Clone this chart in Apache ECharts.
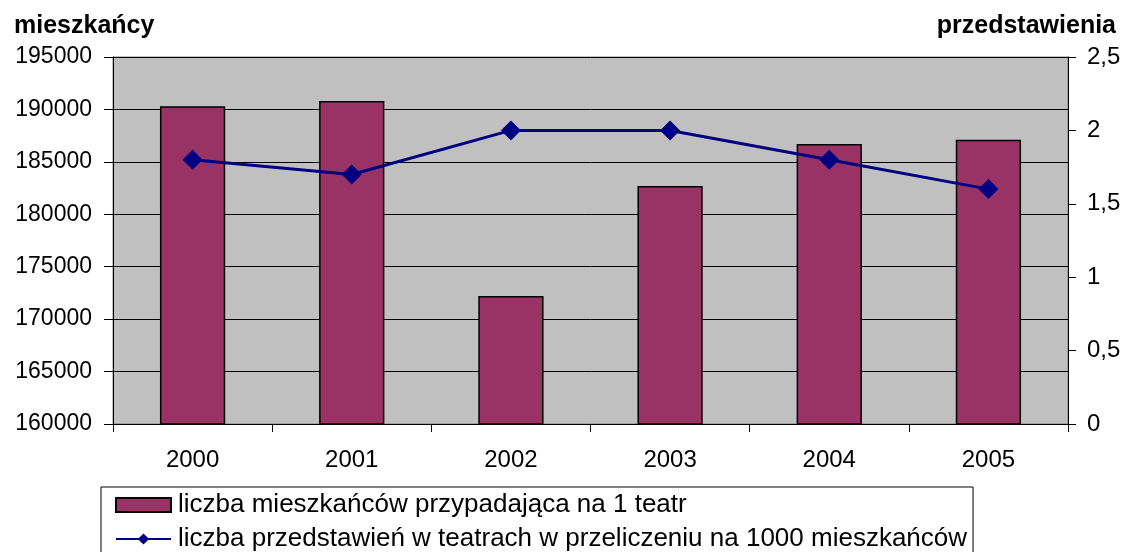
<!DOCTYPE html>
<html>
<head>
<meta charset="utf-8">
<script src="https://cdn.jsdelivr.net/npm/echarts@6/dist/echarts.min.js"></script>
<style>
  html, body { margin: 0; padding: 0; background: #fff; }
  #chart { width: 1127px; height: 552px; }
</style>
</head>
<body>
<div id="chart"></div>
<script>
"use strict";

// lata
const years = ['2000', '2001', '2002', '2003', '2004', '2005'];

// liczba mieszkańców na 1 teatr (oś lewa)
const residentsPerTheatre = [190300, 190800, 172200, 182700, 186700, 187100];

// przedstawienia na 1000 mieszkańców (oś prawa)
const showsPer1000 = [1.8, 1.7, 2.0, 2.0, 1.8, 1.6];

const barName = 'liczba mieszkańców przypadająca na 1 teatr';
const lineName = 'liczba przedstawień w teatrach w przeliczeniu na 1000 mieszkańców';

const font = "'Liberation Sans', Arial, sans-serif";

var myChart = echarts.init(document.getElementById('chart'));

var option = {
    animation: false,
    textStyle: { fontFamily: font },
    title: [
        {
            text: 'mieszkańcy',
            left: 9, top: 9,
            textStyle: { fontSize: 25, fontWeight: 'bold', color: '#000', fontFamily: font }
        },
        {
            text: 'przedstawienia',
            right: 6, top: 9,
            textStyle: { fontSize: 25, fontWeight: 'bold', color: '#000', fontFamily: font }
        }
    ],
    legend: {
        orient: 'vertical',
        left: 101,
        top: 487,
        height: 200,
        padding: [5, 6, 12, 14],
        itemGap: 8,
        itemWidth: 55,
        itemHeight: 14,
        borderColor: '#000',
        borderWidth: 1,
        backgroundColor: '#fff',
        textStyle: { fontSize: 26, color: '#000', fontFamily: font, padding: [0, 0, 0, 2] },
        data: [
            { name: barName, icon: 'rect' },
            { name: lineName }
        ]
    },
    grid: {
        left: 113, right: 59, top: 57, bottom: 128,
        show: true,
        backgroundColor: '#C0C0C0',
        borderColor: '#808080',
        borderWidth: 1
    },
    xAxis: {
        type: 'category',
        data: years,
        axisLine: { lineStyle: { color: '#000', width: 1 } },
        axisTick: { show: true, length: 8, lineStyle: { color: '#000' } },
        axisLabel: { fontSize: 24, color: '#000', margin: 24 }
    },
    yAxis: [
        {
            type: 'value',
            min: 160000, max: 195000, interval: 5000,
            axisLine: { show: true, lineStyle: { color: '#000' } },
            axisTick: { show: true, length: 9, lineStyle: { color: '#000' } },
            axisLabel: { fontSize: 23, color: '#000', margin: 21, formatter: v => String(v) },
            splitLine: { lineStyle: { color: '#000', width: 1 } }
        },
        {
            type: 'value',
            min: 0, max: 2.5, interval: 0.5,
            position: 'right',
            axisLine: { show: true, lineStyle: { color: '#000' } },
            axisTick: { show: true, length: 8, lineStyle: { color: '#000' } },
            axisLabel: {
                fontSize: 24, color: '#000', margin: 19,
                formatter: v => String(v).replace('.', ',')
            },
            splitLine: { show: false }
        }
    ],
    series: [
        {
            name: barName,
            type: 'bar',
            data: residentsPerTheatre,
            barWidth: '41%',
            itemStyle: { color: '#993366', borderColor: '#000', borderWidth: 1.5 }
        },
        {
            name: lineName,
            type: 'line',
            yAxisIndex: 1,
            data: showsPer1000,
            symbol: 'diamond',
            symbolSize: 20,
            lineStyle: { color: '#000080', width: 3 },
            itemStyle: { color: '#000080' },
            z: 5
        }
    ]
};

myChart.setOption(option);
</script>
</body>
</html>
